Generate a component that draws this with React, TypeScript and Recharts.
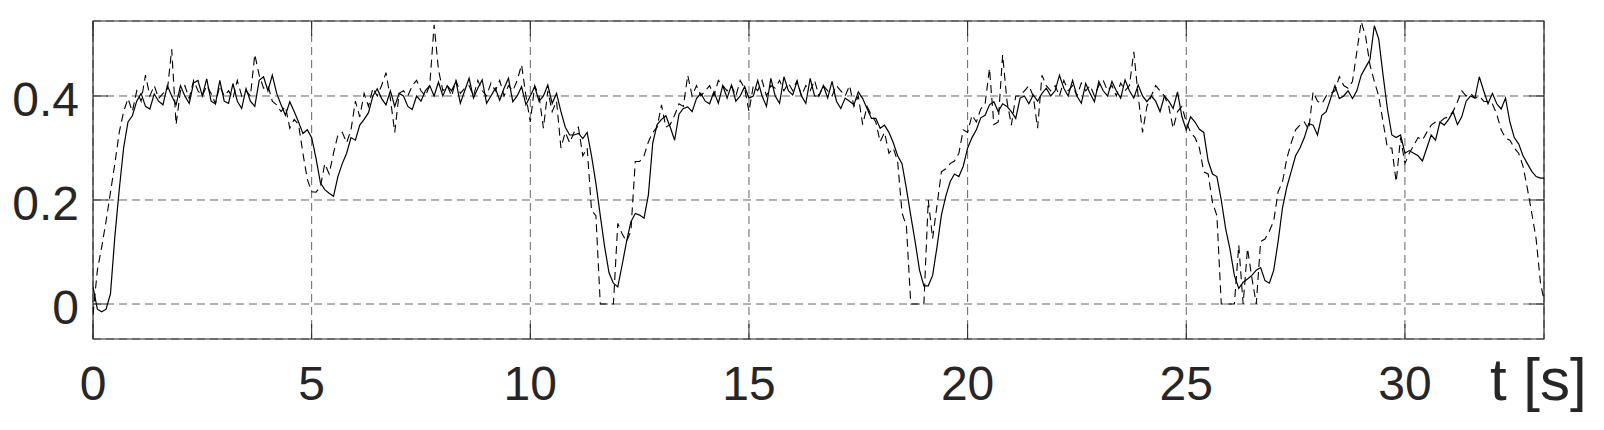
import { LineChart, Line, XAxis, YAxis, CartesianGrid, ReferenceArea } from 'recharts'

const T_STEP = 0.1

const solid = [
  0.033, -0.01, -0.015, -0.01, 0.02, 0.13, 0.22, 0.3, 0.35, 0.362,
  0.39, 0.405, 0.38, 0.375, 0.404, 0.39, 0.383, 0.42, 0.4, 0.383,
  0.42, 0.4, 0.386, 0.425, 0.43, 0.4, 0.433, 0.39, 0.385, 0.43,
  0.39, 0.386, 0.424, 0.39, 0.376, 0.414, 0.39, 0.38, 0.43, 0.437,
  0.41, 0.44, 0.405, 0.383, 0.363, 0.389, 0.37, 0.35, 0.328, 0.335,
  0.32, 0.28, 0.233, 0.22, 0.213, 0.207, 0.245, 0.27, 0.29, 0.32,
  0.315, 0.344, 0.355, 0.368, 0.4, 0.414, 0.395, 0.383, 0.41, 0.38,
  0.405, 0.4, 0.38, 0.374, 0.4, 0.39, 0.41, 0.42, 0.4, 0.427,
  0.4, 0.42, 0.41, 0.428, 0.386, 0.41, 0.434, 0.396, 0.415, 0.431,
  0.386, 0.4, 0.415, 0.392, 0.415, 0.434, 0.389, 0.4, 0.418, 0.383,
  0.4, 0.418, 0.39, 0.4, 0.421, 0.386, 0.405, 0.37, 0.34, 0.325,
  0.325, 0.328, 0.318, 0.33, 0.285, 0.232, 0.17, 0.11, 0.06, 0.04,
  0.033, 0.075, 0.12, 0.158, 0.174, 0.171, 0.165, 0.21, 0.31, 0.345,
  0.355, 0.362, 0.34, 0.315, 0.365, 0.376, 0.379, 0.37, 0.395, 0.405,
  0.39, 0.385, 0.408, 0.386, 0.42, 0.396, 0.421, 0.39, 0.4, 0.418,
  0.396, 0.4, 0.43, 0.4, 0.38, 0.434, 0.4, 0.386, 0.437, 0.41,
  0.402, 0.428, 0.4, 0.386, 0.434, 0.4, 0.4, 0.42, 0.396, 0.428,
  0.39, 0.376, 0.396, 0.39, 0.383, 0.408, 0.395, 0.376, 0.357, 0.357,
  0.338, 0.344, 0.33, 0.31, 0.285, 0.27, 0.222, 0.17, 0.12, 0.065,
  0.035, 0.035, 0.055, 0.11, 0.171, 0.207, 0.235, 0.25, 0.245, 0.265,
  0.3, 0.32, 0.335, 0.358, 0.363, 0.383, 0.389, 0.37, 0.385, 0.38,
  0.37, 0.357, 0.396, 0.4, 0.385, 0.402, 0.39, 0.405, 0.415, 0.4,
  0.41, 0.44, 0.415, 0.4, 0.43, 0.4, 0.386, 0.424, 0.405, 0.389,
  0.428, 0.41, 0.4, 0.428, 0.41, 0.396, 0.431, 0.41, 0.396, 0.421,
  0.4, 0.389, 0.4, 0.39, 0.37, 0.4, 0.39, 0.376, 0.408, 0.36,
  0.335, 0.36, 0.35, 0.336, 0.33, 0.275, 0.25, 0.245, 0.2, 0.145,
  0.105, 0.055, 0.03, 0.042, 0.048, 0.055, 0.065, 0.07, 0.045, 0.04,
  0.065, 0.12, 0.185, 0.225, 0.255, 0.285, 0.3, 0.32, 0.347, 0.344,
  0.325, 0.363, 0.37, 0.395, 0.42, 0.395, 0.4, 0.41, 0.395, 0.41,
  0.44, 0.455, 0.47, 0.535, 0.51, 0.44, 0.375, 0.325, 0.32, 0.325,
  0.29, 0.295, 0.29, 0.285, 0.275, 0.3, 0.325, 0.315, 0.35, 0.344,
  0.355, 0.37, 0.345, 0.36, 0.39, 0.4, 0.396, 0.437, 0.41, 0.385,
  0.405, 0.385, 0.375, 0.396, 0.35, 0.32, 0.308, 0.285, 0.27, 0.255,
  0.245, 0.242, 0.242,
]

const dashed = [
  -0.02, 0.065, 0.11, 0.16, 0.215, 0.27, 0.33, 0.37, 0.395, 0.37,
  0.41, 0.39, 0.44, 0.4, 0.42, 0.395, 0.405, 0.41, 0.49, 0.345,
  0.41, 0.42, 0.395, 0.43, 0.41, 0.4, 0.42, 0.405, 0.385, 0.42,
  0.4, 0.41, 0.395, 0.43, 0.4, 0.41, 0.4, 0.48, 0.44, 0.415,
  0.42, 0.39, 0.383, 0.37, 0.38, 0.338, 0.355, 0.345, 0.29, 0.24,
  0.216, 0.215, 0.225, 0.27, 0.25, 0.29, 0.325, 0.33, 0.31, 0.335,
  0.39, 0.36, 0.405, 0.38, 0.415, 0.4, 0.42, 0.445, 0.395, 0.33,
  0.405, 0.41, 0.4, 0.42, 0.43, 0.41, 0.4, 0.42, 0.537, 0.45,
  0.41, 0.42, 0.4, 0.43, 0.405, 0.415, 0.42, 0.4, 0.43, 0.41,
  0.4, 0.425, 0.41, 0.43, 0.4, 0.42, 0.41, 0.43, 0.46, 0.4,
  0.35, 0.42, 0.4, 0.338, 0.41, 0.37, 0.39, 0.3, 0.33, 0.31,
  0.33, 0.34, 0.285, 0.3, 0.18, 0.17, 0, 0, 0, 0,
  0.155, 0.135, 0.12, 0.14, 0.274, 0.274, 0.285, 0.312, 0.33, 0.34,
  0.383, 0.34, 0.345, 0.363, 0.385, 0.38, 0.44, 0.4, 0.42, 0.4,
  0.41, 0.42, 0.4, 0.43, 0.42, 0.41, 0.42, 0.4, 0.43, 0.415,
  0.37, 0.42, 0.41, 0.43, 0.4, 0.42, 0.415, 0.43, 0.41, 0.425,
  0.41, 0.43, 0.4, 0.42, 0.41, 0.43, 0.4, 0.42, 0.41, 0.4,
  0.42, 0.41, 0.4, 0.42, 0.38, 0.4, 0.345, 0.38, 0.363, 0.35,
  0.312, 0.33, 0.29, 0.3, 0.274, 0.175, 0.15, 0, 0, 0,
  0, 0.2, 0.126, 0.19, 0.254, 0.26, 0.27, 0.275, 0.29, 0.335,
  0.33, 0.363, 0.35, 0.375, 0.385, 0.453, 0.345, 0.35, 0.479, 0.39,
  0.344, 0.4, 0.4, 0.41, 0.42, 0.4, 0.338, 0.44, 0.42, 0.41,
  0.42, 0.4, 0.43, 0.41, 0.42, 0.4, 0.425, 0.41, 0.42, 0.4,
  0.42, 0.43, 0.41, 0.42, 0.4, 0.425, 0.41, 0.42, 0.485, 0.4,
  0.33, 0.38, 0.4, 0.42, 0.41, 0.4, 0.38, 0.338, 0.37, 0.38,
  0.35, 0.33, 0.32, 0.3, 0.254, 0.25, 0.195, 0.17, 0, 0,
  0, 0, 0.113, 0, 0.107, 0.05, 0, 0.12, 0.125, 0.14,
  0.16, 0.216, 0.235, 0.28, 0.31, 0.335, 0.344, 0.35, 0.335, 0.408,
  0.39, 0.385, 0.4, 0.405, 0.41, 0.437, 0.42, 0.415, 0.428, 0.485,
  0.543, 0.515, 0.46, 0.428, 0.4, 0.35, 0.3, 0.3, 0.235, 0.32,
  0.27, 0.29, 0.305, 0.32, 0.315, 0.33, 0.344, 0.35, 0.35, 0.357,
  0.36, 0.37, 0.389, 0.41, 0.4, 0.405, 0.396, 0.4, 0.39, 0.389,
  0.385, 0.365, 0.335, 0.319, 0.315, 0.3, 0.29, 0.265, 0.222, 0.175,
  0.125, 0.04, 0,
]

const xTicks = [0, 5, 10, 15, 20, 25, 30]
const yTicks = [0, 0.2, 0.4]
const yTickLabels = ['0', '0.2', '0.4']
const xLabel = 't [s]'

const X_MAX = 33.18
const Y_MIN = -0.0673
const Y_MAX = 0.5442

const W = 1604
const H = 430
const LEFT = 93
const TOP = 21
const RIGHT = 60
const BOTTOM = 91
const PW = W - LEFT - RIGHT
const PH = H - TOP - BOTTOM
const TICK_LEN = 15
const INK = '#262626'
const FONT = '"Liberation Sans", Arial, Helvetica, sans-serif'

const data = solid.map((v, i) => ({
  t: Math.round(i * T_STEP * 10) / 10,
  s: v,
  d: dashed[i],
}))

function XTick(props: any) {
  const { x, y, payload } = props
  return (
    <g>
      <line x1={x} y1={y} x2={x} y2={y - TICK_LEN} stroke={INK} />
      <line x1={x} y1={y - PH} x2={x} y2={y - PH + TICK_LEN} stroke={INK} />
      <text x={x} y={y + 61} textAnchor="middle" fontSize={48} fontFamily={FONT} fill={INK}>
        {payload.value}
      </text>
    </g>
  )
}

function YTick(props: any) {
  const { x, y, payload, index } = props
  const label = yTickLabels[yTicks.indexOf(payload.value)] ?? yTickLabels[index]
  return (
    <g>
      <line x1={x} y1={y} x2={x + TICK_LEN} y2={y} stroke={INK} />
      <line x1={x + PW - TICK_LEN} y1={y} x2={x + PW} y2={y} stroke={INK} />
      <text x={x - 14} y={y + 20} textAnchor="end" fontSize={48} fontFamily={FONT} fill={INK}>
        {label}
      </text>
    </g>
  )
}

export default function App() {
  return (
    <div style={{ position: 'absolute', left: 0, top: 0, width: W, height: H, background: '#fff' }}>
      <LineChart width={W} height={H} data={data} margin={{ top: TOP, right: RIGHT, bottom: 0, left: 0 }}>
        <CartesianGrid stroke="#666" strokeDasharray="8 5" strokeWidth={1} />
        <XAxis
          dataKey="t"
          type="number"
          domain={[0, X_MAX]}
          ticks={xTicks}
          interval={0}
          allowDataOverflow
          axisLine={false}
          tickLine={false}
          tickSize={0}
          tickMargin={0}
          height={BOTTOM}
          tick={XTick}
        />
        <YAxis
          type="number"
          domain={[Y_MIN, Y_MAX]}
          ticks={yTicks}
          interval={0}
          allowDataOverflow
          axisLine={false}
          tickLine={false}
          tickSize={0}
          tickMargin={0}
          width={LEFT}
          tick={YTick}
        />
        <ReferenceArea x1={0} x2={X_MAX} y1={Y_MIN} y2={Y_MAX} fill="none" stroke={INK} strokeWidth={1.2} />
        <Line
          type="linear"
          dataKey="d"
          stroke="#000"
          strokeWidth={1.1}
          strokeDasharray="8 5"
          dot={false}
          isAnimationActive={false}
        />
        <Line
          type="linear"
          dataKey="s"
          stroke="#000"
          strokeWidth={1.2}
          dot={false}
          isAnimationActive={false}
        />
      </LineChart>
      <svg width={W} height={H} style={{ position: 'absolute', left: 0, top: 0, pointerEvents: 'none' }}>
        <text x={1490} y={400} fontSize={60} fontFamily={FONT} fill={INK}>
          {xLabel}
        </text>
      </svg>
    </div>
  )
}
